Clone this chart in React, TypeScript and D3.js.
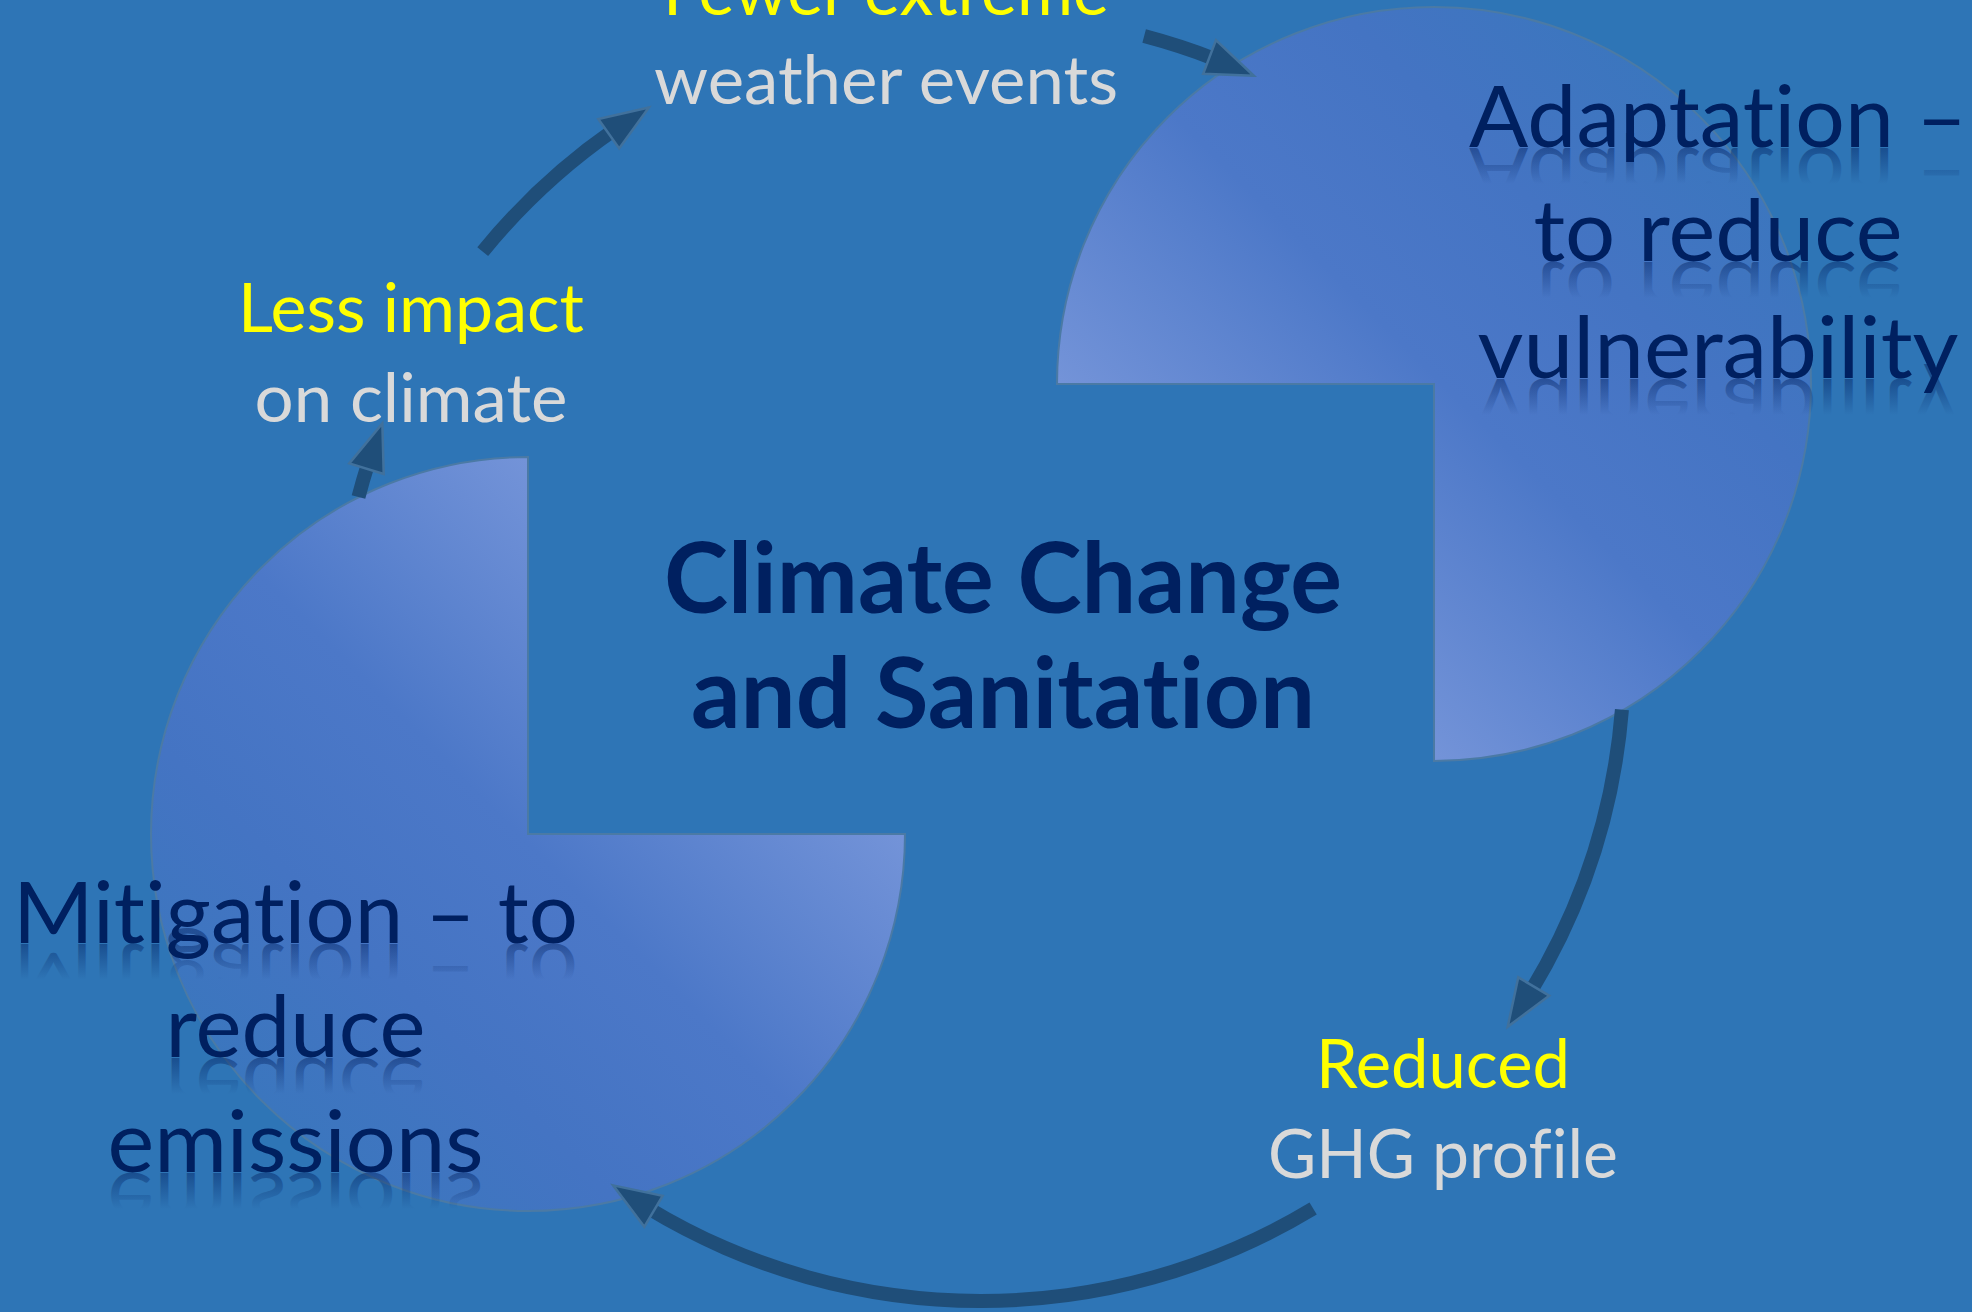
import React from 'react';
import * as d3 from 'd3';

// ---------- data ----------
const titleLines = ['Climate Change', 'and Sanitation'];
const adaptationLines = ['Adaptation –', 'to reduce', 'vulnerability'];
const mitigationLines = ['Mitigation – to', 'reduce', 'emissions'];
const outcomeHeads = ['Fewer extreme', 'Less impact', 'Reduced'];
const outcomeTails = ['weather events', 'on climate', 'GHG profile'];

// pie sectors (degrees, clockwise from 12 o'clock)
const pieStartDeg = [-90, 90];
const pieEndDeg = [180, 360];

// cycle arrows (degrees on the ring, clockwise from 12 o'clock)
const arrowStartDeg = [-50.8, 14.7, 94.6, 148.9, 284.5];
const arrowTipDeg = [-31.1, 25.1, 125.0, 214.9, 291.4];

// ---------- layout ----------
const W = 1972;
const H = 1312;
const ring = { cx: 981, cy: 658, r: 643, width: 14, headLen: 48, headHalf: 18 };
const pies = [
  { cx: 1434, cy: 384, r: 377 },
  { cx: 528, cy: 834, r: 377 },
];
const titleLayout = { cx: 1003, baselines: [613, 728], widths: [678, 624], size: 98 };
const adaptationLayout = { cx: 1718, baselines: [147, 261, 378], widths: [498, 369, 481], size: 85 };
const mitigationLayout = { cx: 295.5, baselines: [942.5, 1057, 1172], widths: [565, 260, 376], size: 85 };
const outcomeLayout = [
  { cx: 886, baselines: [15, 104], widths: [446, 464] },
  { cx: 411, baselines: [332, 422], widths: [346, 313] },
  { cx: 1443, baselines: [1088, 1178], widths: [254, 350] },
];
const outcomeSize = 68;

const BG = '#2E75B6';
const NAVY = '#002060';
const YELLOW = '#FFFF00';
const GREY = '#D9D9D9';
const ARROW = '#1F4E79';
const ARROW_EDGE = '#41719C';
const PIE_EDGE = '#4B7AA5';
const FONT = "Lato, 'Open Sans', 'Noto Sans', sans-serif";
const NOLIG = { fontVariantLigatures: 'none', fontFeatureSettings: '"liga" 0, "clig" 0' } as any;

const rad = d3.scaleLinear().domain([0, 180]).range([0, Math.PI]);

function ringPoint(deg: number, r: number = ring.r): [number, number] {
  const a = rad(deg);
  return [ring.cx + r * Math.sin(a), ring.cy - r * Math.cos(a)];
}

function ReflectedLines({ lines, layout, id }: { lines: string[]; layout: any; id: string }) {
  return (
    <g>
      {lines.map((t, i) => (
        <g key={t}>
          <text
            transform={`translate(${layout.cx},${layout.baselines[i] + 1}) scale(1,-1)`}
            x={0}
            y={0}
            textAnchor="middle"
            fontFamily={FONT}
            fontSize={layout.size}
            fill={`url(#${id})`}
            textLength={layout.widths[i]}
            lengthAdjust="spacingAndGlyphs"
            style={NOLIG}
          >
            {t}
          </text>
          <text
            x={layout.cx}
            y={layout.baselines[i]}
            textAnchor="middle"
            fontFamily={FONT}
            fontSize={layout.size}
            fill={NAVY}
            textLength={layout.widths[i]}
            lengthAdjust="spacingAndGlyphs"
            style={NOLIG}
          >
            {t}
          </text>
        </g>
      ))}
    </g>
  );
}

export default function App() {
  const pieArc = d3.arc<any>();
  const shaftArc = d3
    .arc<any>()
    .innerRadius(ring.r - ring.width / 2)
    .outerRadius(ring.r + ring.width / 2);
  const tri = d3.line().curve(d3.curveLinearClosed);
  const headDeg = (ring.headLen / ring.r) * (180 / Math.PI);

  // gradient axes for the pies, in each pie's local (centred) coordinates:
  // light at the arm tips, fading toward the far diagonal
  const grad = pies.map((p, i) => {
    const s = i === 0 ? 1 : -1;
    const u = Math.SQRT1_2;
    const back = p.r * 0.694;
    return {
      x1: -s * back * u,
      y1: s * back * u,
      x2: s * p.r * u,
      y2: -s * p.r * u,
    };
  });

  return (
    <svg
      width={W}
      height={H}
      viewBox={`0 0 ${W} ${H}`}
      style={{ position: 'absolute', left: 0, top: 0, display: 'block' }}
    >
      <defs>
        {grad.map((g, i) => (
          <linearGradient key={i} id={`pieGrad${i}`} gradientUnits="userSpaceOnUse" x1={g.x1} y1={g.y1} x2={g.x2} y2={g.y2}>
            <stop offset="0" stopColor="#7393D8" />
            <stop offset="0.42" stopColor="#4C78C8" />
            <stop offset="0.72" stopColor="#4474C3" />
            <stop offset="1" stopColor="#3B76BE" />
          </linearGradient>
        ))}
        <linearGradient id="reflGrad" gradientUnits="userSpaceOnUse" x1={0} y1={0} x2={0} y2={-36}>
          <stop offset="0" stopColor={NAVY} stopOpacity={0.45} />
          <stop offset="1" stopColor={NAVY} stopOpacity={0} />
        </linearGradient>
      </defs>

      <rect x={0} y={0} width={W} height={H} fill={BG} />

      {pies.map((p, i) => (
        <path
          key={i}
          transform={`translate(${p.cx},${p.cy})`}
          d={pieArc({
            innerRadius: 0,
            outerRadius: p.r,
            startAngle: rad(pieStartDeg[i]),
            endAngle: rad(pieEndDeg[i]),
          }) as string}
          fill={`url(#pieGrad${i})`}
          stroke={PIE_EDGE}
          strokeWidth={2}
        />
      ))}

      {arrowStartDeg.map((s, i) => {
        const tipDeg = arrowTipDeg[i];
        const baseDeg = tipDeg - headDeg;
        const tip = ringPoint(tipDeg);
        const b1 = ringPoint(baseDeg, ring.r - ring.headHalf);
        const b2 = ringPoint(baseDeg, ring.r + ring.headHalf);
        return (
          <g key={i}>
            <path
              transform={`translate(${ring.cx},${ring.cy})`}
              d={shaftArc({ startAngle: rad(s), endAngle: rad(baseDeg + 0.6) } as any) as string}
              fill={ARROW}
            />
            <path d={tri([tip, b1, b2]) as string} fill={ARROW} stroke={ARROW_EDGE} strokeWidth={2.5} strokeLinejoin="miter" />
          </g>
        );
      })}

      {outcomeHeads.map((h, i) => {
        const L = outcomeLayout[i];
        return (
          <g key={h} fontFamily={FONT} fontSize={outcomeSize} textAnchor="middle" style={NOLIG}>
            <text x={L.cx} y={L.baselines[0]} fill={YELLOW} textLength={L.widths[0]} lengthAdjust="spacingAndGlyphs">
              {h}
            </text>
            <text x={L.cx} y={L.baselines[1]} fill={GREY} textLength={L.widths[1]} lengthAdjust="spacingAndGlyphs">
              {outcomeTails[i]}
            </text>
          </g>
        );
      })}

      <ReflectedLines lines={adaptationLines} layout={adaptationLayout} id="reflGrad" />
      <ReflectedLines lines={mitigationLines} layout={mitigationLayout} id="reflGrad" />

      {titleLines.map((t, i) => (
        <text
          key={t}
          x={titleLayout.cx}
          y={titleLayout.baselines[i]}
          textAnchor="middle"
          fontFamily={FONT}
          fontWeight={700}
          fontSize={titleLayout.size}
          fill={NAVY}
          textLength={titleLayout.widths[i]}
          lengthAdjust="spacingAndGlyphs"
          style={NOLIG}
        >
          {t}
        </text>
      ))}
    </svg>
  );
}
